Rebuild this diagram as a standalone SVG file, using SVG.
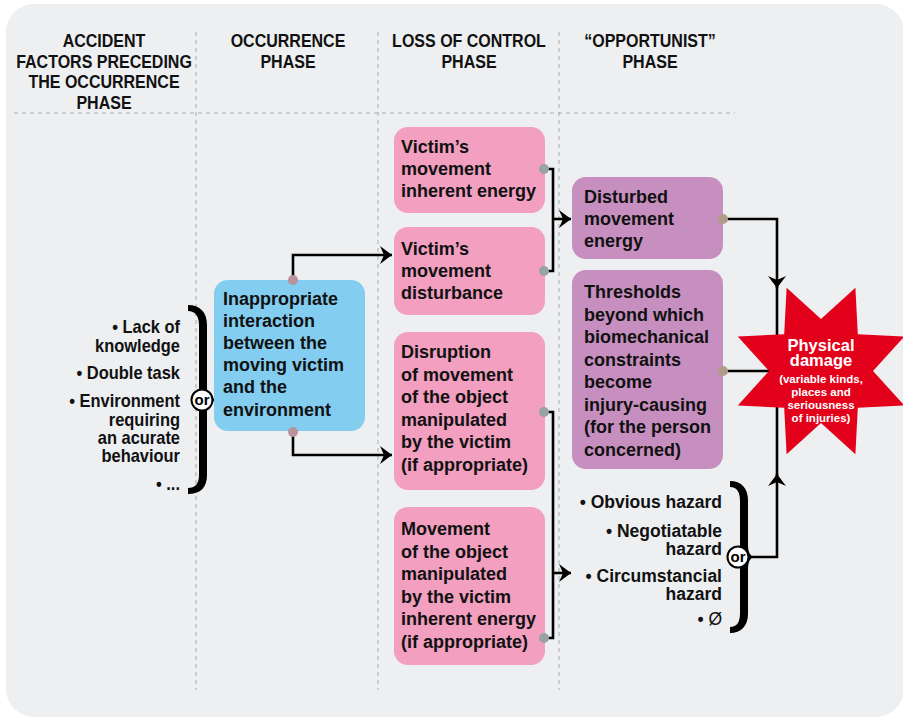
<svg xmlns="http://www.w3.org/2000/svg" width="903" height="721" viewBox="0 0 903 721">
<style>
.t{font-family:"Liberation Sans",Arial,sans-serif;font-weight:bold;font-size:18px;fill:#111}
.h{text-anchor:middle}
.e{text-anchor:end}
.w{fill:#fff;text-anchor:middle}
.div{stroke:#a9abad;stroke-width:1;stroke-dasharray:4 4;fill:none}
.ln{stroke:#000;stroke-width:2.6;fill:none}
.brace{fill:#000}
.orc{fill:#fff;stroke:#000;stroke-width:2}
.ort{font-family:"Liberation Sans",Arial,sans-serif;font-weight:bold;font-size:15px;text-anchor:middle;fill:#000}
</style>
<defs>
<marker id="ah" viewBox="0 0 12 18" refX="12" refY="9" markerWidth="12" markerHeight="18" markerUnits="userSpaceOnUse" orient="auto">
<path d="M0,0 L12,9 L0,18 L4,9 Z" fill="#000"/>
</marker>
</defs>
<rect x="6" y="4" width="898" height="713" rx="28" fill="#eeeff1"/>
<g id="dividers">
<line class="div" x1="196" y1="32" x2="196" y2="690"/>
<line class="div" x1="378" y1="32" x2="378" y2="690"/>
<line class="div" x1="559" y1="32" x2="559" y2="690"/>
<line class="div" x1="14" y1="113" x2="735" y2="113"/>
</g>
<g id="headers" class="t h">
<g transform="translate(104,0) scale(0.89,1)">
<text x="0" y="47">ACCIDENT</text>
<text x="0" y="68">FACTORS PRECEDING</text>
<text x="0" y="88">THE OCCURRENCE</text>
<text x="0" y="109">PHASE</text>
</g>
<g transform="translate(288,0) scale(0.89,1)">
<text x="0" y="47">OCCURRENCE</text>
<text x="0" y="68">PHASE</text>
</g>
<g transform="translate(469,0) scale(0.89,1)">
<text x="0" y="47">LOSS OF CONTROL</text>
<text x="0" y="68">PHASE</text>
</g>
<g transform="translate(650,0) scale(0.89,1)">
<text x="0" y="47">“OPPORTUNIST”</text>
<text x="0" y="68">PHASE</text>
</g>
</g>
<g id="connectors">
<path class="ln" d="M293,280 V255 H392" marker-end="url(#ah)"/>
<path class="ln" d="M293,432 V455 H392" marker-end="url(#ah)"/>
<path class="ln" d="M544,169 H553 V271 H544"/>
<path class="ln" d="M553,219 H571" marker-end="url(#ah)"/>
<path class="ln" d="M544,412 H553 V638 H544"/>
<path class="ln" d="M553,573 H571" marker-end="url(#ah)"/>
<path class="ln" d="M723,219 H777 V288" marker-end="url(#ah)"/>
<path class="ln" d="M777,286 V345"/>
<path class="ln" d="M723,371 H776"/>
<path class="ln" d="M749,557 H777 V474" marker-end="url(#ah)"/>
<path class="ln" d="M777,476 V400"/>
<path class="ln" d="M208,400 H215"/>
</g>
<g id="factors">
<g class="t e" style="font-size:17.5px" transform="translate(180,0) scale(0.94,1)">
<text x="0" y="333">• Lack of</text>
<text x="0" y="352">knowledge</text>
<text x="0" y="379">• Double task</text>
<text x="0" y="407">• Environment</text>
<text x="0" y="426">requiring</text>
<text x="0" y="444">an acurate</text>
<text x="0" y="462">behaviour</text>
<text x="0" y="490">• ...</text>
</g>
<path class="brace" d="M188,305 C200,305 207,312 207,325 L207,388 C207,395 209,399 213,400 C209,401 207,405 207,412 L207,475 C207,488 200,494 188,494 L188,488 C195,488 199,484 199,475 L199,412 C199,405 201,401 204,400 C201,399 199,395 199,388 L199,325 C199,316 195,311 188,311 Z"/>
<circle class="orc" cx="202" cy="400" r="10.5"/>
<text class="ort" x="202" y="405">or</text>
</g>
<g id="interaction">
<rect x="214" y="280" width="151" height="151" rx="14" fill="#82cdf0"/>
<g class="t">
<text x="223" y="305">Inappropriate</text>
<text x="223" y="327">interaction</text>
<text x="223" y="349">between the</text>
<text x="223" y="371">moving victim</text>
<text x="223" y="393">and the</text>
<text x="223" y="416">environment</text>
</g>
<circle cx="293" cy="280" r="5" fill="#b8939c"/>
<circle cx="293" cy="432" r="5" fill="#b8939c"/>
</g>
<g id="inherent-energy">
<rect x="394" y="127" width="151" height="86" rx="14" fill="#f29fc0"/>
<g class="t">
<text x="401" y="153">Victim’s</text>
<text x="401" y="175">movement</text>
<text x="401" y="197">inherent energy</text>
</g>
<circle cx="544" cy="169" r="5" fill="#99a3a4"/>
</g>
<g id="disturbance">
<rect x="394" y="227" width="151" height="88" rx="14" fill="#f29fc0"/>
<g class="t">
<text x="401" y="255">Victim’s</text>
<text x="401" y="277">movement</text>
<text x="401" y="299">disturbance</text>
</g>
<circle cx="544" cy="271" r="5" fill="#99a3a4"/>
</g>
<g id="disruption">
<rect x="394" y="332" width="151" height="158" rx="14" fill="#f29fc0"/>
<g class="t">
<text x="401" y="358">Disruption</text>
<text x="401" y="380.5">of movement</text>
<text x="401" y="403">of the object</text>
<text x="401" y="425.5">manipulated</text>
<text x="401" y="448">by the victim</text>
<text x="401" y="470.5">(if appropriate)</text>
</g>
<circle cx="544" cy="412" r="5" fill="#99a3a4"/>
</g>
<g id="object-energy">
<rect x="394" y="507" width="151" height="158" rx="14" fill="#f29fc0"/>
<g class="t">
<text x="401" y="535">Movement</text>
<text x="401" y="557.5">of the object</text>
<text x="401" y="580">manipulated</text>
<text x="401" y="602.5">by the victim</text>
<text x="401" y="625">inherent energy</text>
<text x="401" y="647.5">(if appropriate)</text>
</g>
<circle cx="544" cy="638" r="5" fill="#99a3a4"/>
</g>
<g id="disturbed-energy">
<rect x="572" y="177" width="151" height="82" rx="14" fill="#c78fbf"/>
<g class="t">
<text x="584" y="203">Disturbed</text>
<text x="584" y="225">movement</text>
<text x="584" y="247">energy</text>
</g>
<circle cx="723" cy="219" r="5" fill="#b39b8c"/>
</g>
<g id="thresholds">
<rect x="572" y="270" width="151" height="199" rx="14" fill="#c78fbf"/>
<g class="t">
<text x="584" y="298">Thresholds</text>
<text x="584" y="320.5">beyond which</text>
<text x="584" y="343">biomechanical</text>
<text x="584" y="365.5">constraints</text>
<text x="584" y="388">become</text>
<text x="584" y="410.5">injury-causing</text>
<text x="584" y="433">(for the person</text>
<text x="584" y="455.5">concerned)</text>
</g>
<circle cx="723" cy="371" r="5" fill="#b39b8c"/>
</g>
<g id="hazards">
<g class="t e" style="font-size:17.5px">
<text x="722" y="508">• Obvious hazard</text>
<text x="722" y="537">• Negotiatable</text>
<text x="722" y="554.5">hazard</text>
<text x="722" y="582">• Circumstancial</text>
<text x="722" y="600">hazard</text>
<text x="722" y="625">• <tspan font-weight="normal">Ø</tspan></text>
</g>
<path class="brace" d="M730,481 C741,481 748,488 748,500 L748,545 C748,552 750,556 754,557 C750,558 748,562 748,569 L748,614 C748,626 741,633 730,633 L730,627 C737,627 740,622 740,613 L740,569 C740,562 742,558 745,557 C742,556 740,552 740,545 L740,501 C740,492 737,487 730,487 Z"/>
<circle class="orc" cx="738" cy="557" r="10.5"/>
<text class="ort" x="738" y="562">or</text>
</g>
<g id="physical-damage">
<polygon fill="#e3001b" points="786.6,287.8 821,319 855.4,287.8 857.8,334.2 904.2,336.6 873,371 904.2,405.4 857.8,407.8 855.4,454.2 821,423 786.6,454.2 784.2,407.8 737.8,405.4 769,371 737.8,336.6 784.2,334.2"/>
<g class="t w" style="font-size:16.5px">
<text x="821" y="351">Physical</text>
<text x="821" y="366">damage</text>
</g>
<g class="t w" style="font-size:11.5px">
<text x="821" y="383">(variable kinds,</text>
<text x="821" y="396">places and</text>
<text x="821" y="409">seriousness</text>
<text x="821" y="422">of injuries)</text>
</g>
</g>
</svg>
